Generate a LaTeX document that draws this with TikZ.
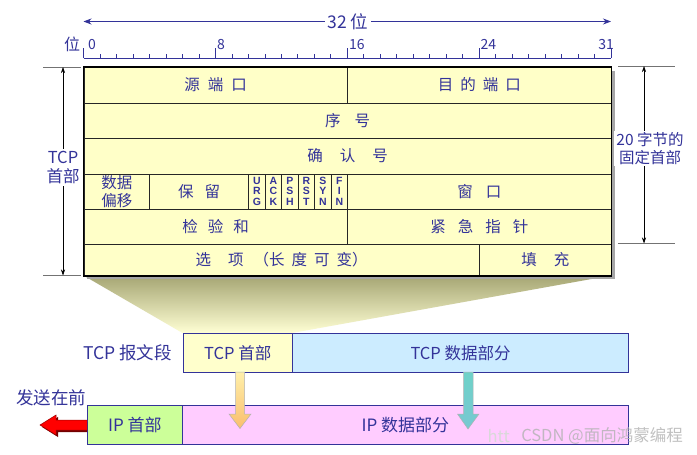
\documentclass[tikz,border=0pt]{standalone}
\usepackage{fontspec}
\setmainfont{Noto Sans CJK SC}
\newfontfamily\flagfont{Liberation Sans}
\usetikzlibrary{arrows.meta,calc}
\definecolor{ink}{RGB}{51,51,153}
\definecolor{tabfill}{RGB}{255,255,200}
\definecolor{hdrfill}{RGB}{255,255,204}
\definecolor{datfill}{RGB}{204,236,255}
\definecolor{iphfill}{RGB}{204,255,153}
\definecolor{ipdfill}{RGB}{255,204,255}
\newcommand{\kk}[1]{\hspace{#1pt}}
\tikzset{
  cell/.style={draw=black!85, line width=0.6pt, fill=tabfill, text=ink, inner sep=0pt,
    anchor=north west, font=\fontsize{15.5}{18}\selectfont, align=center},
  flagcell/.style={cell, font=\flagfont\bfseries\fontsize{10.5}{10.6}\selectfont},
  seg/.style={draw=ink, line width=1.1pt, text=ink, inner sep=0pt, anchor=north west,
    minimum height=38.5pt, font=\fontsize{16.5}{19}\selectfont},
  lbl/.style={text=ink, inner sep=1pt, font=\fontsize{16}{19}\selectfont, align=center},
  num/.style={text=ink, inner sep=0pt, font=\fontsize{14}{16}\selectfont},
  dimarrow/.style={draw=black, line width=0.6pt, {Stealth[length=6pt,width=4pt]}-{Stealth[length=6pt,width=4pt]}},
  ext/.style={draw=black!55, line width=0.6pt}
}
\begin{document}
\begin{tikzpicture}[x=1pt,y=-1pt]
\useasboundingbox[fill=white] (0,0) rectangle (697,455);

% ---- ruler
\def\bw{16.484}
\foreach \i in {0,...,32}{
  \draw[ink, line width=0.6pt] (83.5+\i*\bw,54) -- (83.5+\i*\bw,58);
}
\foreach \i in {0,8,16,24,32}{
  \draw[ink, line width=0.8pt] (83.5+\i*\bw,48) -- (83.5+\i*\bw,58);
}
\draw[ink, line width=0.8pt] (83.5,58) -- (611,58);
\node[num, anchor=base west] (n0) at (88,49) {0};
\node[num, anchor=base west] (n8) at (217,49) {8};
\node[num, anchor=base west] (n16) at (349,49) {16};
\node[num, anchor=base west] (n24) at (480.5,49) {24};
\node[num, anchor=base east] (n31) at (614,49) {31};
\node[lbl] (wei) at (72,44) {位};
\coordinate (rl) at (83.5,21.5);
\coordinate (rr) at (611,21.5);
\draw[ink, line width=0.8pt, {Stealth[length=8pt,width=6pt]}-{Stealth[length=8pt,width=6pt]}] (rl) -- (rr);
\node[text=ink, fill=white, inner sep=3pt, font=\fontsize{17.5}{19}\selectfont] (bits) at (348,21.5) {32 位};

% ---- fan shading
\shade[top color={rgb,255:red,165;green,165;blue,115}, bottom color={rgb,255:red,255;green,255;blue,212}]
  (83.5,275.5) -- (611,275.5) -- (292,333) -- (182.5,333) -- cycle;

% ---- shadow
\fill[black!35] (87,71) rectangle (615,279);

% ---- table
\node[cell, minimum width=263.75pt, minimum height=35.5pt] (src) at (83.5,67) {源\kk{8}端\kk{8}口};
\node[cell, minimum width=263.75pt, minimum height=35.5pt] (dst) at (347.25,67) {目\kk{7}的\kk{7}端\kk{7}口};
\node[cell, minimum width=527.5pt, minimum height=35.5pt] (seq) at (83.5,102.5) {序\kk{14}号};
\node[cell, minimum width=527.5pt, minimum height=35.5pt] (ack) at (83.5,138) {确\kk{17}认\kk{17}号};
\node[cell, minimum width=65.94pt, minimum height=35pt] (off) at (83.5,173.5) {数据\\偏移};
\node[cell, minimum width=98.9pt, minimum height=35pt] (res) at (149.44,173.5) {保\kk{11}留};
\node[flagcell, minimum width=16.484pt, minimum height=35pt] (urg) at (248.34,173.5) {U\\R\\G};
\node[flagcell, minimum width=16.484pt, minimum height=35pt] (ackf) at (264.82,173.5) {A\\C\\K};
\node[flagcell, minimum width=16.484pt, minimum height=35pt] (psh) at (281.31,173.5) {P\\S\\H};
\node[flagcell, minimum width=16.484pt, minimum height=35pt] (rst) at (297.79,173.5) {R\\S\\T};
\node[flagcell, minimum width=16.484pt, minimum height=35pt] (syn) at (314.28,173.5) {S\\Y\\N};
\node[flagcell, minimum width=16.484pt, minimum height=35pt] (fin) at (330.76,173.5) {F\\I\\N};
\node[cell, minimum width=263.75pt, minimum height=35pt] (win) at (347.25,173.5) {窗\kk{13}口};
\node[cell, minimum width=263.75pt, minimum height=35pt] (chk) at (83.5,208.5) {检\kk{10}验\kk{10}和};
\node[cell, minimum width=263.75pt, minimum height=35pt] (urgp) at (347.25,208.5) {紧\kk{12}急\kk{12}指\kk{12}针};
\node[cell, minimum width=395.47pt, minimum height=32pt] (opt) at (83.5,243.5) {选\kk{17}项\kk{10}（长\kk{7}度\kk{7}可\kk{7}变）};
\node[cell, minimum width=132.03pt, minimum height=32pt] (pad) at (478.97,243.5) {填\kk{17}充};
\draw[black, line width=1.5pt] (src.north west) rectangle (pad.south east);

% ---- left dimension
\coordinate (lt1) at (43,67);  \coordinate (lt2) at (81,67);
\coordinate (lb1) at (43,275.5); \coordinate (lb2) at (81,275.5);
\draw[ext] (lt1) -- (lt2);
\draw[ext] (lb1) -- (lb2);
\coordinate (la) at (63,67); \coordinate (lb) at (63,275.5);
\draw[dimarrow] (la) -- (lb);
\node[lbl, fill=white, inner sep=2pt, font=\fontsize{16.5}{19.5}\selectfont] (tcplab) at (63,167.5) {TCP\\首部};

% ---- right dimension
\coordinate (rt1) at (618,66);  \coordinate (rt2) at (675,66);
\coordinate (rb1) at (618,243.5); \coordinate (rb2) at (675,243.5);
\draw[ext] (rt1) -- (rt2);
\draw[ext] (rb1) -- (rb2);
\coordinate (ra) at (644,66); \coordinate (rb) at (644,243.5);
\draw[dimarrow] (ra) -- (rb);
\node[lbl, fill=white, inner sep=2pt, font=\fontsize{15.5}{17.5}\selectfont] (fixlab) at (650,148.5) {20 字节的\\固定首部};

% ---- TCP segment
\node[seg, fill=hdrfill, minimum width=109.5pt] (tcph) at (182.5,333) {TCP 首部};
\node[seg, fill=datfill, minimum width=336pt] (tcpd) at (292,333) {TCP 数据部分};
\node[lbl, anchor=east, font=\fontsize{17.5}{19}\selectfont] (seglab) at (173,353) {TCP 报文段};

% ---- IP datagram
\node[seg, fill=iphfill, minimum width=94.5pt, font=\fontsize{17}{19}\selectfont] (iph) at (87,405) {IP 首部};
\node[seg, fill=ipdfill, minimum width=446.5pt, font=\fontsize{17}{19}\selectfont] (ipd) at (181.5,405) {IP 数据部分};
\node[lbl, anchor=west, font=\fontsize{17.5}{19}\selectfont, inner sep=0pt] (send) at (16,398) {发送在前};

% ---- down arrows
\shadedraw[draw=black!30, line width=0.5pt, top color={rgb,255:red,255;green,240;blue,170}, bottom color={rgb,255:red,250;green,190;blue,110}]
  (235.5,372) -- (244.5,372) -- (244.5,414) -- (251,414) -- (240,428.5) -- (229,414) -- (235.5,414) -- cycle;
\shadedraw[draw=black!30, line width=0.5pt, top color={rgb,255:red,110;green,210;blue,200}, bottom color={rgb,255:red,120;green,200;blue,210}]
  (463.5,372) -- (473,372) -- (473,414) -- (479,414) -- (468,429) -- (457.5,414) -- (463.5,414) -- cycle;

% ---- red arrow
\fill[red!45!black] (87,422) -- (58,422) -- (58,417) -- (42,427) -- (58,437) -- (58,432) -- (87,432) -- cycle;
\draw[fill=red, draw=red!60!black, line width=0.5pt] (87,420) -- (56,420) -- (56,415) -- (40,425) -- (56,435) -- (56,430) -- (87,430);

% ---- watermark
\node[text=black!30, inner sep=0pt, anchor=east, font=\fontsize{16.5}{18}\selectfont, opacity=0.8] (wm) at (683,436) {CSDN @面向鸿蒙编程};
\node[text=black!15, inner sep=0pt, anchor=east, font=\fontsize{16.5}{18}\selectfont] (wm0) at (510,436) {htt};
\end{tikzpicture}
\end{document}
